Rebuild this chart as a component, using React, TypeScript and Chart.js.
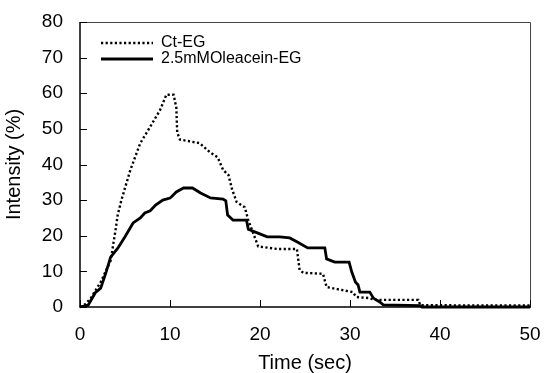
import React, { useEffect, useRef } from "react";
import { Chart, registerables } from "chart.js";

Chart.register(...registerables);

const ctTime = [0, 0.6, 1.2, 2.3, 3.4, 3.9, 4.2, 4.6, 5.6, 6.7, 7.8, 8.9, 9.6, 10.4, 10.7, 10.8, 11.1, 13.3, 14.4, 15.3, 15.9, 16.5, 16.9, 17.4, 18.3, 18.7, 19.2, 19.8, 21.9, 24.1, 24.4, 24.8, 27.0, 27.4, 28.6, 30.3, 30.7, 32.2, 32.6, 37.6, 37.8, 50];
const ctIntensity = [0, 0.8, 2.5, 7, 13, 20.8, 26, 30, 38.5, 46, 50.6, 55.3, 59.6, 59.6, 56, 49, 47, 46, 43.5, 42, 38.5, 37, 33, 29.5, 28, 24.4, 21, 17, 16.3, 16.3, 10.4, 9.6, 9.3, 5.6, 5, 4.2, 2.8, 2.5, 2, 2, 0.5, 0.4];

const oleTime = [0, 0.9, 1.7, 2.3, 2.9, 3.4, 4.2, 5.0, 5.9, 6.7, 7.2, 7.8, 8.4, 9.2, 10.0, 10.2, 10.7, 11.5, 12.5, 13.4, 14.5, 15.9, 16.2, 16.4, 17.0, 18.5, 18.7, 19.7, 20.8, 22.2, 23.3, 24.2, 25.3, 27.2, 27.4, 28.3, 29.9, 30.2, 30.6, 30.9, 31.1, 32.2, 32.6, 33.3, 33.7, 37.8, 38.0, 50];
const oleIntensity = [0, 0.5, 4, 5.3, 9.8, 14, 16.5, 19.7, 23.6, 25, 26.4, 27, 28.6, 30, 30.6, 31, 32.3, 33.4, 33.4, 32, 30.6, 30.3, 29.8, 25.8, 24.4, 24.4, 21.8, 20.8, 19.7, 19.7, 19.4, 18.2, 16.6, 16.6, 13.5, 12.6, 12.6, 9.8, 7, 6.2, 4.2, 4.2, 2.5, 1.4, 0.6, 0.4, 0, 0];

const seriesNames = ["Ct-EG", "2.5mMOleacein-EG"];
const xTicks = [0, 10, 20, 30, 40, 50];
const yTicks = [0, 10, 20, 30, 40, 50, 60, 70, 80];

const FONT = "'Liberation Sans', Arial, sans-serif";

const framePlugin = {
  id: "frame",
  afterLayout(chart: any) {
    const lg = chart.legend;
    if (lg) {
      lg.left = chart.chartArea.left + 21;
      lg.top = chart.chartArea.top + 13;
    }
  },
  afterDatasetsDraw(chart: any) {
    const { ctx, chartArea, scales } = chart;
    const { left, right, top, bottom } = chartArea;
    ctx.save();
    ctx.strokeStyle = "#444";
    ctx.lineWidth = 1;
    ctx.beginPath();
    ctx.moveTo(left, top + 0.5);
    ctx.lineTo(right + 0.5, top + 0.5);
    ctx.lineTo(right + 0.5, bottom);
    ctx.stroke();
    ctx.strokeStyle = "#000";
    ctx.lineWidth = 1.5;
    ctx.beginPath();
    ctx.moveTo(left, top);
    ctx.lineTo(left, bottom);
    ctx.lineTo(right + 1, bottom);
    ctx.stroke();
    ctx.lineWidth = 1;
    ctx.beginPath();
    scales.y.ticks.forEach((t: any) => {
      const py = Math.round(scales.y.getPixelForValue(t.value)) + 0.5;
      ctx.moveTo(left, py);
      ctx.lineTo(left + 7, py);
    });
    scales.x.ticks.forEach((t: any) => {
      const px = Math.round(scales.x.getPixelForValue(t.value)) + 0.5;
      ctx.moveTo(px, bottom);
      ctx.lineTo(px, bottom - 7);
    });
    ctx.stroke();
    ctx.restore();
  },
};

export default function App() {
  const ref = useRef<HTMLCanvasElement | null>(null);
  useEffect(() => {
    if (!ref.current) return;
    const chart = new Chart(ref.current, {
      type: "line",
      data: {
        datasets: [
          {
            label: seriesNames[0],
            data: ctTime.map((t, i) => ({ x: t, y: ctIntensity[i] })),
            borderColor: "#000",
            backgroundColor: "#000",
            borderWidth: 2.4,
            borderDash: [2.2, 2.4],
            pointRadius: 0,
            tension: 0,
            clip: false as any,
          },
          {
            label: seriesNames[1],
            data: oleTime.map((t, i) => ({ x: t, y: oleIntensity[i] })),
            borderColor: "#000",
            backgroundColor: "#000",
            borderWidth: 2.8,
            pointRadius: 0,
            tension: 0,
            clip: false as any,
          },
        ],
      },
      options: {
        animation: false,
        responsive: false,
        layout: { padding: { top: 22, right: 14, left: 0, bottom: 0 } },
        plugins: {
          legend: {
            position: "chartArea" as any,
            align: "start",
            labels: {
              usePointStyle: true,
              pointStyle: "line",
              pointStyleWidth: 52,
              boxHeight: 16,
              padding: 0,
              color: "#000",
              font: { family: FONT, size: 16 },
              generateLabels: (c: any) => {
                const items = (Chart.defaults.plugins.legend.labels as any).generateLabels(c);
                return items.map((it: any) => {
                  const ds = c.data.datasets[it.datasetIndex];
                  return {
                    ...it,
                    pointStyle: "line",
                    lineDash: ds.borderDash || [],
                    lineWidth: ds.borderWidth,
                    strokeStyle: "#000",
                    fillStyle: "#000",
                    fontColor: "#000",
                  };
                });
              },
            },
          },
          tooltip: { enabled: false },
        },
        scales: {
          x: {
            type: "linear",
            min: 0,
            max: 50,
            afterBuildTicks: (s: any) => {
              s.ticks = xTicks.map((v) => ({ value: v }));
            },
            afterFit: (s: any) => {
              s.height = 66;
              s.paddingLeft = 0;
              s.paddingRight = 0;
            },
            grid: { display: false, drawTicks: false },
            border: { display: false },
            ticks: {
              padding: 16,
              color: "#000",
              font: { family: FONT, size: 19 },
              maxRotation: 0,
            },
            title: {
              display: true,
              text: "Time (sec)",
              color: "#000",
              font: { family: FONT, size: 20, lineHeight: 1 },
              padding: { top: 0, bottom: 0 },
            },
          },
          y: {
            type: "linear",
            min: 0,
            max: 80,
            afterBuildTicks: (s: any) => {
              s.ticks = yTicks.map((v) => ({ value: v }));
            },
            afterFit: (s: any) => {
              s.width = 80;
              s.paddingTop = 0;
              s.paddingBottom = 0;
            },
            grid: { display: false, drawTicks: false },
            border: { display: false },
            ticks: {
              padding: 17,
              color: "#000",
              font: { family: FONT, size: 19 },
            },
            title: {
              display: true,
              text: "Intensity (%)",
              color: "#000",
              font: { family: FONT, size: 20 },
              padding: { top: 2, bottom: 0 },
            },
          },
        },
      },
      plugins: [framePlugin],
    });
    return () => chart.destroy();
  }, []);
  return (
    <div style={{ position: "absolute", left: 0, top: 0, width: 544, height: 373, background: "#fff" }}>
      <canvas ref={ref} width={544} height={373} style={{ display: "block" }} />
    </div>
  );
}
